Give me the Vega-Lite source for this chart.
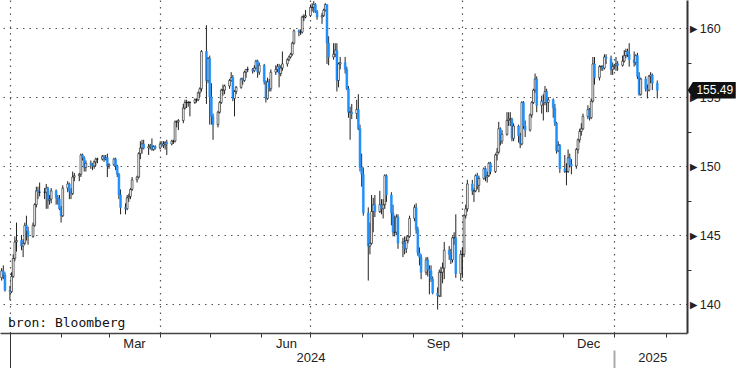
{
  "$schema": "https://vega.github.io/schema/vega-lite/v6.json",
  "width": 687,
  "height": 333,
  "padding": {"left": 0, "top": 0, "right": 49, "bottom": 35},
  "autosize": {"type": "none"},
  "background": "white",
  "config": {"view": {"stroke": null}},
  "data": {"values": [
{"d":"2023-12-27","o":141.9,"h":142.6,"l":141.7,"c":142.4},
{"d":"2023-12-28","o":142.4,"h":142.8,"l":141.8,"c":142.1},
{"d":"2023-12-29","o":142.1,"h":142.3,"l":140.9,"c":141.0},
{"d":"2024-01-01","o":141.0,"h":141.3,"l":140.3,"c":140.9},
{"d":"2024-01-02","o":140.9,"h":142.3,"l":140.8,"c":142.0},
{"d":"2024-01-03","o":142.0,"h":143.6,"l":141.9,"c":143.3},
{"d":"2024-01-04","o":143.3,"h":144.9,"l":143.1,"c":144.5},
{"d":"2024-01-05","o":144.5,"h":145.9,"l":143.8,"c":144.6},
{"d":"2024-01-08","o":144.6,"h":145.0,"l":143.9,"c":144.2},
{"d":"2024-01-09","o":144.2,"h":144.7,"l":143.4,"c":144.4},
{"d":"2024-01-10","o":144.4,"h":145.9,"l":144.3,"c":145.7},
{"d":"2024-01-11","o":145.7,"h":146.4,"l":144.6,"c":145.3},
{"d":"2024-01-12","o":145.3,"h":145.6,"l":144.3,"c":144.9},
{"d":"2024-01-15","o":144.9,"h":145.9,"l":144.8,"c":145.7},
{"d":"2024-01-16","o":145.7,"h":147.3,"l":145.6,"c":147.2},
{"d":"2024-01-17","o":147.2,"h":148.5,"l":147.0,"c":148.2},
{"d":"2024-01-18","o":148.2,"h":148.5,"l":147.6,"c":148.1},
{"d":"2024-01-19","o":148.1,"h":148.8,"l":147.8,"c":148.1},
{"d":"2024-01-22","o":148.1,"h":148.4,"l":147.6,"c":148.1},
{"d":"2024-01-23","o":148.1,"h":148.7,"l":146.9,"c":148.4},
{"d":"2024-01-24","o":148.4,"h":148.5,"l":146.9,"c":147.5},
{"d":"2024-01-25","o":147.5,"h":147.9,"l":147.2,"c":147.6},
{"d":"2024-01-26","o":147.6,"h":148.4,"l":147.3,"c":148.2},
{"d":"2024-01-29","o":148.2,"h":148.3,"l":147.2,"c":147.7},
{"d":"2024-01-30","o":147.7,"h":147.9,"l":147.2,"c":147.6},
{"d":"2024-01-31","o":147.6,"h":147.9,"l":146.8,"c":146.9},
{"d":"2024-02-01","o":146.9,"h":147.1,"l":145.9,"c":146.4},
{"d":"2024-02-02","o":146.4,"h":148.6,"l":146.3,"c":148.4},
{"d":"2024-02-05","o":148.4,"h":148.9,"l":148.1,"c":148.7},
{"d":"2024-02-06","o":148.7,"h":148.8,"l":147.6,"c":148.2},
{"d":"2024-02-07","o":148.2,"h":148.4,"l":147.6,"c":148.0},
{"d":"2024-02-08","o":148.0,"h":149.6,"l":147.9,"c":149.2},
{"d":"2024-02-09","o":149.2,"h":149.5,"l":148.9,"c":149.3},
{"d":"2024-02-12","o":149.3,"h":149.5,"l":148.9,"c":149.4},
{"d":"2024-02-13","o":149.4,"h":150.9,"l":149.2,"c":150.8},
{"d":"2024-02-14","o":150.8,"h":150.9,"l":150.4,"c":150.6},
{"d":"2024-02-15","o":150.6,"h":150.7,"l":149.6,"c":149.9},
{"d":"2024-02-16","o":149.9,"h":150.4,"l":149.6,"c":150.2},
{"d":"2024-02-19","o":150.2,"h":150.4,"l":149.8,"c":150.1},
{"d":"2024-02-20","o":150.1,"h":150.2,"l":149.7,"c":150.0},
{"d":"2024-02-21","o":150.0,"h":150.4,"l":149.8,"c":150.3},
{"d":"2024-02-22","o":150.3,"h":150.6,"l":150.0,"c":150.5},
{"d":"2024-02-23","o":150.5,"h":150.6,"l":150.2,"c":150.5},
{"d":"2024-02-26","o":150.5,"h":150.8,"l":150.4,"c":150.7},
{"d":"2024-02-27","o":150.7,"h":150.8,"l":150.3,"c":150.5},
{"d":"2024-02-28","o":150.5,"h":150.8,"l":150.4,"c":150.6},
{"d":"2024-02-29","o":150.6,"h":150.9,"l":149.2,"c":150.0},
{"d":"2024-03-01","o":150.0,"h":150.2,"l":149.8,"c":150.1},
{"d":"2024-03-04","o":150.1,"h":150.6,"l":150.0,"c":150.5},
{"d":"2024-03-05","o":150.5,"h":150.6,"l":149.7,"c":150.0},
{"d":"2024-03-06","o":150.0,"h":150.1,"l":149.2,"c":149.4},
{"d":"2024-03-07","o":149.4,"h":149.5,"l":147.6,"c":147.9},
{"d":"2024-03-08","o":147.9,"h":148.3,"l":146.5,"c":147.0},
{"d":"2024-03-11","o":147.0,"h":147.3,"l":146.5,"c":146.9},
{"d":"2024-03-12","o":146.9,"h":147.9,"l":146.8,"c":147.7},
{"d":"2024-03-13","o":147.7,"h":148.0,"l":147.4,"c":147.8},
{"d":"2024-03-14","o":147.8,"h":148.4,"l":147.6,"c":148.3},
{"d":"2024-03-15","o":148.3,"h":149.2,"l":148.2,"c":149.0},
{"d":"2024-03-18","o":149.0,"h":149.3,"l":148.8,"c":149.2},
{"d":"2024-03-19","o":149.2,"h":151.0,"l":149.1,"c":150.9},
{"d":"2024-03-20","o":150.9,"h":151.8,"l":150.5,"c":151.3},
{"d":"2024-03-21","o":151.3,"h":151.9,"l":150.9,"c":151.6},
{"d":"2024-03-22","o":151.6,"h":151.9,"l":151.2,"c":151.3},
{"d":"2024-03-25","o":151.3,"h":151.6,"l":150.8,"c":151.4},
{"d":"2024-03-26","o":151.4,"h":151.6,"l":151.2,"c":151.5},
{"d":"2024-03-27","o":151.5,"h":152.0,"l":151.1,"c":151.2},
{"d":"2024-03-28","o":151.2,"h":151.5,"l":151.1,"c":151.4},
{"d":"2024-03-29","o":151.4,"h":151.5,"l":151.2,"c":151.3},
{"d":"2024-04-01","o":151.3,"h":151.8,"l":151.2,"c":151.6},
{"d":"2024-04-02","o":151.6,"h":151.8,"l":151.4,"c":151.5},
{"d":"2024-04-03","o":151.5,"h":151.8,"l":151.3,"c":151.6},
{"d":"2024-04-04","o":151.6,"h":151.8,"l":151.2,"c":151.7},
{"d":"2024-04-05","o":151.7,"h":151.9,"l":150.8,"c":151.6},
{"d":"2024-04-08","o":151.6,"h":151.9,"l":151.5,"c":151.8},
{"d":"2024-04-09","o":151.8,"h":151.9,"l":151.6,"c":151.8},
{"d":"2024-04-10","o":151.8,"h":153.3,"l":151.7,"c":153.2},
{"d":"2024-04-11","o":153.2,"h":153.3,"l":152.8,"c":153.2},
{"d":"2024-04-12","o":153.2,"h":153.4,"l":152.6,"c":153.3},
{"d":"2024-04-15","o":153.3,"h":154.5,"l":153.1,"c":154.2},
{"d":"2024-04-16","o":154.2,"h":154.8,"l":154.1,"c":154.6},
{"d":"2024-04-17","o":154.6,"h":154.8,"l":154.2,"c":154.6},
{"d":"2024-04-18","o":154.6,"h":154.7,"l":154.3,"c":154.6},
{"d":"2024-04-19","o":154.6,"h":154.7,"l":153.6,"c":154.6},
{"d":"2024-04-22","o":154.6,"h":154.9,"l":154.5,"c":154.8},
{"d":"2024-04-23","o":154.8,"h":154.9,"l":154.6,"c":154.8},
{"d":"2024-04-24","o":154.8,"h":155.4,"l":154.7,"c":155.3},
{"d":"2024-04-25","o":155.3,"h":155.7,"l":155.0,"c":155.6},
{"d":"2024-04-26","o":155.6,"h":158.4,"l":155.4,"c":158.3},
{"d":"2024-04-29","o":158.3,"h":160.2,"l":154.5,"c":156.2},
{"d":"2024-04-30","o":156.2,"h":157.9,"l":156.0,"c":157.8},
{"d":"2024-05-01","o":157.8,"h":158.0,"l":153.0,"c":155.0},
{"d":"2024-05-02","o":155.0,"h":156.0,"l":153.0,"c":153.6},
{"d":"2024-05-03","o":153.6,"h":153.8,"l":151.9,"c":153.0},
{"d":"2024-05-06","o":153.0,"h":154.0,"l":152.8,"c":153.9},
{"d":"2024-05-07","o":153.9,"h":154.7,"l":153.8,"c":154.6},
{"d":"2024-05-08","o":154.6,"h":155.6,"l":154.5,"c":155.5},
{"d":"2024-05-09","o":155.5,"h":155.9,"l":155.1,"c":155.5},
{"d":"2024-05-10","o":155.5,"h":155.9,"l":155.2,"c":155.8},
{"d":"2024-05-13","o":155.8,"h":156.3,"l":155.6,"c":156.2},
{"d":"2024-05-14","o":156.2,"h":156.8,"l":156.1,"c":156.4},
{"d":"2024-05-15","o":156.4,"h":156.6,"l":154.7,"c":154.9},
{"d":"2024-05-16","o":154.9,"h":155.5,"l":153.6,"c":155.4},
{"d":"2024-05-17","o":155.4,"h":155.8,"l":155.2,"c":155.7},
{"d":"2024-05-20","o":155.7,"h":156.4,"l":155.6,"c":156.3},
{"d":"2024-05-21","o":156.3,"h":156.4,"l":155.9,"c":156.2},
{"d":"2024-05-22","o":156.2,"h":156.9,"l":156.1,"c":156.8},
{"d":"2024-05-23","o":156.8,"h":157.0,"l":156.4,"c":157.0},
{"d":"2024-05-24","o":157.0,"h":157.2,"l":156.8,"c":157.0},
{"d":"2024-05-27","o":157.0,"h":157.1,"l":156.7,"c":156.9},
{"d":"2024-05-28","o":156.9,"h":157.3,"l":156.8,"c":157.1},
{"d":"2024-05-29","o":157.1,"h":157.7,"l":157.0,"c":157.6},
{"d":"2024-05-30","o":157.6,"h":157.7,"l":156.4,"c":156.8},
{"d":"2024-05-31","o":156.8,"h":157.5,"l":156.6,"c":157.3},
{"d":"2024-06-03","o":157.3,"h":157.4,"l":155.9,"c":156.1},
{"d":"2024-06-04","o":156.1,"h":156.2,"l":154.6,"c":154.9},
{"d":"2024-06-05","o":154.9,"h":156.4,"l":154.8,"c":156.1},
{"d":"2024-06-06","o":156.1,"h":156.3,"l":155.4,"c":155.6},
{"d":"2024-06-07","o":155.6,"h":157.0,"l":155.4,"c":156.8},
{"d":"2024-06-10","o":156.8,"h":157.3,"l":156.6,"c":157.0},
{"d":"2024-06-11","o":157.0,"h":157.4,"l":156.8,"c":157.2},
{"d":"2024-06-12","o":157.2,"h":157.4,"l":155.7,"c":156.7},
{"d":"2024-06-13","o":156.7,"h":157.3,"l":156.5,"c":157.1},
{"d":"2024-06-14","o":157.1,"h":158.3,"l":156.9,"c":157.4},
{"d":"2024-06-17","o":157.4,"h":157.8,"l":157.2,"c":157.7},
{"d":"2024-06-18","o":157.7,"h":158.0,"l":157.6,"c":157.9},
{"d":"2024-06-19","o":157.9,"h":158.2,"l":157.8,"c":158.1},
{"d":"2024-06-20","o":158.1,"h":159.0,"l":158.0,"c":158.9},
{"d":"2024-06-21","o":158.9,"h":159.9,"l":158.8,"c":159.8},
{"d":"2024-06-24","o":159.8,"h":159.9,"l":159.4,"c":159.7},
{"d":"2024-06-25","o":159.7,"h":159.9,"l":159.5,"c":159.7},
{"d":"2024-06-26","o":159.7,"h":160.9,"l":159.6,"c":160.8},
{"d":"2024-06-27","o":160.8,"h":161.0,"l":160.5,"c":160.8},
{"d":"2024-06-28","o":160.8,"h":161.3,"l":160.7,"c":160.9},
{"d":"2024-07-01","o":160.9,"h":161.7,"l":160.8,"c":161.5},
{"d":"2024-07-02","o":161.5,"h":161.8,"l":161.2,"c":161.5},
{"d":"2024-07-03","o":161.5,"h":161.95,"l":161.1,"c":161.7},
{"d":"2024-07-04","o":161.7,"h":161.8,"l":161.1,"c":161.2},
{"d":"2024-07-05","o":161.2,"h":161.3,"l":160.6,"c":160.8},
{"d":"2024-07-08","o":160.8,"h":161.1,"l":160.3,"c":160.9},
{"d":"2024-07-09","o":160.9,"h":161.4,"l":160.8,"c":161.3},
{"d":"2024-07-10","o":161.3,"h":161.8,"l":161.2,"c":161.7},
{"d":"2024-07-11","o":161.7,"h":161.7,"l":157.4,"c":158.9},
{"d":"2024-07-12","o":158.9,"h":159.4,"l":157.3,"c":157.9},
{"d":"2024-07-15","o":157.9,"h":158.9,"l":157.7,"c":158.1},
{"d":"2024-07-16","o":158.1,"h":158.9,"l":157.9,"c":158.4},
{"d":"2024-07-17","o":158.4,"h":158.9,"l":155.4,"c":156.2},
{"d":"2024-07-18","o":156.2,"h":157.5,"l":155.7,"c":157.4},
{"d":"2024-07-19","o":157.4,"h":157.9,"l":157.0,"c":157.5},
{"d":"2024-07-22","o":157.5,"h":157.9,"l":156.7,"c":157.0},
{"d":"2024-07-23","o":157.0,"h":157.2,"l":155.5,"c":155.6},
{"d":"2024-07-24","o":155.6,"h":155.8,"l":153.5,"c":153.9},
{"d":"2024-07-25","o":153.9,"h":154.3,"l":151.9,"c":153.9},
{"d":"2024-07-26","o":153.9,"h":154.5,"l":153.4,"c":153.8},
{"d":"2024-07-29","o":153.8,"h":154.8,"l":153.4,"c":154.1},
{"d":"2024-07-30","o":154.1,"h":155.2,"l":152.6,"c":152.7},
{"d":"2024-07-31","o":152.7,"h":153.0,"l":149.6,"c":149.9},
{"d":"2024-08-01","o":149.9,"h":150.9,"l":148.5,"c":149.4},
{"d":"2024-08-02","o":149.4,"h":149.9,"l":146.4,"c":146.6},
{"d":"2024-08-05","o":146.6,"h":147.0,"l":141.7,"c":144.2},
{"d":"2024-08-06","o":144.2,"h":145.9,"l":143.6,"c":144.4},
{"d":"2024-08-07","o":144.4,"h":147.9,"l":144.3,"c":146.7},
{"d":"2024-08-08","o":146.7,"h":147.7,"l":145.2,"c":147.2},
{"d":"2024-08-09","o":147.2,"h":147.9,"l":146.3,"c":146.7},
{"d":"2024-08-12","o":146.7,"h":148.2,"l":146.6,"c":147.2},
{"d":"2024-08-13","o":147.2,"h":147.6,"l":146.5,"c":146.9},
{"d":"2024-08-14","o":146.9,"h":147.6,"l":146.2,"c":147.2},
{"d":"2024-08-15","o":147.2,"h":149.4,"l":146.9,"c":149.3},
{"d":"2024-08-16","o":149.3,"h":149.4,"l":147.4,"c":147.9},
{"d":"2024-08-19","o":147.9,"h":148.1,"l":145.7,"c":146.6},
{"d":"2024-08-20","o":146.6,"h":147.2,"l":144.9,"c":145.2},
{"d":"2024-08-21","o":145.2,"h":146.4,"l":144.9,"c":145.2},
{"d":"2024-08-22","o":145.2,"h":146.5,"l":145.0,"c":146.3},
{"d":"2024-08-23","o":146.3,"h":146.5,"l":144.0,"c":144.4},
{"d":"2024-08-26","o":144.4,"h":144.8,"l":143.4,"c":144.5},
{"d":"2024-08-27","o":144.5,"h":144.9,"l":143.6,"c":144.0},
{"d":"2024-08-28","o":144.0,"h":144.9,"l":143.7,"c":144.6},
{"d":"2024-08-29","o":144.6,"h":145.0,"l":144.4,"c":144.9},
{"d":"2024-08-30","o":144.9,"h":146.4,"l":144.8,"c":146.2},
{"d":"2024-09-02","o":146.2,"h":147.2,"l":146.0,"c":147.0},
{"d":"2024-09-03","o":147.0,"h":147.3,"l":145.1,"c":145.4},
{"d":"2024-09-04","o":145.4,"h":145.6,"l":143.5,"c":143.7},
{"d":"2024-09-05","o":143.7,"h":144.1,"l":142.8,"c":143.4},
{"d":"2024-09-06","o":143.4,"h":143.6,"l":141.8,"c":142.3},
{"d":"2024-09-09","o":142.3,"h":143.4,"l":142.1,"c":143.2},
{"d":"2024-09-10","o":143.2,"h":143.4,"l":142.0,"c":142.5},
{"d":"2024-09-11","o":142.5,"h":142.8,"l":140.7,"c":142.4},
{"d":"2024-09-12","o":142.4,"h":142.8,"l":141.6,"c":141.8},
{"d":"2024-09-13","o":141.8,"h":142.0,"l":140.7,"c":140.8},
{"d":"2024-09-16","o":140.8,"h":141.2,"l":139.6,"c":140.6},
{"d":"2024-09-17","o":140.6,"h":142.5,"l":140.5,"c":142.3},
{"d":"2024-09-18","o":142.3,"h":142.7,"l":140.5,"c":142.3},
{"d":"2024-09-19","o":142.3,"h":143.0,"l":141.5,"c":142.6},
{"d":"2024-09-20","o":142.6,"h":144.5,"l":141.8,"c":143.9},
{"d":"2024-09-23","o":143.9,"h":144.2,"l":143.2,"c":143.6},
{"d":"2024-09-24","o":143.6,"h":144.0,"l":142.9,"c":143.2},
{"d":"2024-09-25","o":143.2,"h":144.9,"l":143.0,"c":144.8},
{"d":"2024-09-26","o":144.8,"h":145.2,"l":144.3,"c":144.8},
{"d":"2024-09-27","o":144.8,"h":146.5,"l":141.9,"c":142.2},
{"d":"2024-09-30","o":142.2,"h":143.9,"l":141.7,"c":143.6},
{"d":"2024-10-01","o":143.6,"h":144.1,"l":141.9,"c":143.6},
{"d":"2024-10-02","o":143.6,"h":146.5,"l":143.4,"c":146.4},
{"d":"2024-10-03","o":146.4,"h":147.2,"l":146.2,"c":146.9},
{"d":"2024-10-04","o":146.9,"h":149.0,"l":146.7,"c":148.7},
{"d":"2024-10-07","o":148.7,"h":149.0,"l":147.9,"c":148.2},
{"d":"2024-10-08","o":148.2,"h":148.4,"l":147.4,"c":148.2},
{"d":"2024-10-09","o":148.2,"h":149.4,"l":148.1,"c":149.3},
{"d":"2024-10-10","o":149.3,"h":149.5,"l":148.3,"c":148.6},
{"d":"2024-10-11","o":148.6,"h":149.3,"l":148.1,"c":149.1},
{"d":"2024-10-14","o":149.1,"h":149.9,"l":149.0,"c":149.8},
{"d":"2024-10-15","o":149.8,"h":149.9,"l":148.9,"c":149.2},
{"d":"2024-10-16","o":149.2,"h":149.6,"l":148.8,"c":149.3},
{"d":"2024-10-17","o":149.3,"h":150.3,"l":149.2,"c":150.2},
{"d":"2024-10-18","o":150.2,"h":150.3,"l":149.4,"c":149.6},
{"d":"2024-10-21","o":149.6,"h":150.9,"l":149.5,"c":150.8},
{"d":"2024-10-22","o":150.8,"h":151.3,"l":150.4,"c":151.0},
{"d":"2024-10-23","o":151.0,"h":153.2,"l":150.9,"c":152.7},
{"d":"2024-10-24","o":152.7,"h":152.8,"l":151.5,"c":151.8},
{"d":"2024-10-25","o":151.8,"h":152.6,"l":151.6,"c":152.3},
{"d":"2024-10-28","o":152.3,"h":153.9,"l":152.2,"c":153.3},
{"d":"2024-10-29","o":153.3,"h":153.9,"l":152.9,"c":153.4},
{"d":"2024-10-30","o":153.4,"h":153.9,"l":152.9,"c":153.4},
{"d":"2024-10-31","o":153.4,"h":153.5,"l":151.8,"c":152.0},
{"d":"2024-11-01","o":152.0,"h":153.1,"l":151.8,"c":152.9},
{"d":"2024-11-04","o":152.9,"h":153.0,"l":151.7,"c":152.2},
{"d":"2024-11-05","o":152.2,"h":152.4,"l":151.3,"c":151.6},
{"d":"2024-11-06","o":151.6,"h":154.7,"l":151.5,"c":154.6},
{"d":"2024-11-07","o":154.6,"h":154.7,"l":152.7,"c":152.9},
{"d":"2024-11-08","o":152.9,"h":153.3,"l":152.1,"c":152.6},
{"d":"2024-11-11","o":152.6,"h":153.8,"l":152.5,"c":153.7},
{"d":"2024-11-12","o":153.7,"h":154.7,"l":153.5,"c":154.6},
{"d":"2024-11-13","o":154.6,"h":155.6,"l":154.5,"c":155.5},
{"d":"2024-11-14","o":155.5,"h":156.7,"l":155.3,"c":156.3},
{"d":"2024-11-15","o":156.3,"h":156.5,"l":153.9,"c":154.4},
{"d":"2024-11-18","o":154.4,"h":155.1,"l":153.8,"c":154.7},
{"d":"2024-11-19","o":154.7,"h":155.2,"l":153.3,"c":154.6},
{"d":"2024-11-20","o":154.6,"h":155.8,"l":154.4,"c":155.4},
{"d":"2024-11-21","o":155.4,"h":155.6,"l":153.9,"c":154.6},
{"d":"2024-11-22","o":154.6,"h":155.0,"l":153.9,"c":154.8},
{"d":"2024-11-25","o":154.8,"h":154.9,"l":153.5,"c":154.2},
{"d":"2024-11-26","o":154.2,"h":154.5,"l":152.9,"c":153.1},
{"d":"2024-11-27","o":153.1,"h":153.2,"l":150.9,"c":151.1},
{"d":"2024-11-28","o":151.1,"h":151.8,"l":151.0,"c":151.5},
{"d":"2024-11-29","o":151.5,"h":151.6,"l":149.5,"c":149.8},
{"d":"2024-12-02","o":149.8,"h":150.8,"l":149.5,"c":149.6},
{"d":"2024-12-03","o":149.6,"h":150.2,"l":148.6,"c":149.6},
{"d":"2024-12-04","o":149.6,"h":151.2,"l":149.5,"c":150.6},
{"d":"2024-12-05","o":150.6,"h":150.9,"l":149.9,"c":150.1},
{"d":"2024-12-06","o":150.1,"h":150.5,"l":149.4,"c":150.0},
{"d":"2024-12-09","o":150.0,"h":151.3,"l":149.8,"c":151.2},
{"d":"2024-12-10","o":151.2,"h":152.0,"l":150.9,"c":151.9},
{"d":"2024-12-11","o":151.9,"h":152.7,"l":151.7,"c":152.5},
{"d":"2024-12-12","o":152.5,"h":153.1,"l":152.2,"c":152.7},
{"d":"2024-12-13","o":152.7,"h":153.8,"l":152.6,"c":153.6},
{"d":"2024-12-16","o":153.6,"h":154.4,"l":153.4,"c":154.1},
{"d":"2024-12-17","o":154.1,"h":154.2,"l":153.3,"c":153.5},
{"d":"2024-12-18","o":153.5,"h":154.9,"l":153.4,"c":154.7},
{"d":"2024-12-19","o":154.7,"h":157.9,"l":154.6,"c":157.4},
{"d":"2024-12-20","o":157.4,"h":157.9,"l":155.9,"c":156.4},
{"d":"2024-12-23","o":156.4,"h":157.3,"l":156.2,"c":157.2},
{"d":"2024-12-24","o":157.2,"h":157.3,"l":156.9,"c":157.2},
{"d":"2024-12-25","o":157.2,"h":157.3,"l":156.9,"c":157.1},
{"d":"2024-12-26","o":157.1,"h":158.1,"l":157.0,"c":157.9},
{"d":"2024-12-27","o":157.9,"h":158.1,"l":157.4,"c":157.8},
{"d":"2024-12-30","o":157.8,"h":158.0,"l":156.6,"c":157.0},
{"d":"2024-12-31","o":157.0,"h":157.5,"l":156.6,"c":157.2},
{"d":"2025-01-01","o":157.2,"h":157.4,"l":157.0,"c":157.3},
{"d":"2025-01-02","o":157.3,"h":157.9,"l":156.9,"c":157.4},
{"d":"2025-01-03","o":157.4,"h":157.6,"l":156.9,"c":157.3},
{"d":"2025-01-06","o":157.3,"h":158.0,"l":157.2,"c":157.6},
{"d":"2025-01-07","o":157.6,"h":158.4,"l":157.5,"c":158.0},
{"d":"2025-01-08","o":158.0,"h":158.5,"l":157.8,"c":158.3},
{"d":"2025-01-09","o":158.3,"h":158.5,"l":157.9,"c":158.1},
{"d":"2025-01-10","o":158.1,"h":158.9,"l":157.2,"c":157.7},
{"d":"2025-01-13","o":157.7,"h":158.3,"l":157.2,"c":157.5},
{"d":"2025-01-14","o":157.5,"h":158.1,"l":157.3,"c":158.0},
{"d":"2025-01-15","o":158.0,"h":158.2,"l":156.3,"c":156.5},
{"d":"2025-01-16","o":156.5,"h":156.8,"l":155.1,"c":155.2},
{"d":"2025-01-17","o":155.2,"h":156.4,"l":155.1,"c":156.3},
{"d":"2025-01-20","o":156.3,"h":156.5,"l":155.4,"c":155.6},
{"d":"2025-01-21","o":155.6,"h":155.9,"l":154.9,"c":155.5},
{"d":"2025-01-22","o":155.5,"h":156.6,"l":155.4,"c":156.5},
{"d":"2025-01-23","o":156.5,"h":156.8,"l":156.0,"c":156.6},
{"d":"2025-01-24","o":156.6,"h":156.7,"l":155.5,"c":156.0},
{"d":"2025-01-27","o":156.0,"h":156.2,"l":154.9,"c":155.49}
  ]},
  "resolve": {"axis": {"x": "independent", "y": "independent"}},
  "layer": [
    {
      "mark": {"type": "rule", "color": "#222", "strokeWidth": 1},
      "encoding": {
        "x": {
          "field": "d", "type": "temporal",
          "scale": {"type": "utc", "padding": 0, "domain": [{"year": 2023, "month": 12, "date": 26, "utc": true}, {"year": 2025, "month": 2, "date": 14, "utc": true}]},
          "axis": {
            "title": null, "orient": "bottom",
            "values": [
              {"year": 2024, "month": 1, "date": 1, "utc": true},
              {"year": 2024, "month": 2, "date": 1, "utc": true},
              {"year": 2024, "month": 3, "date": 1, "utc": true},
              {"year": 2024, "month": 4, "date": 1, "utc": true},
              {"year": 2024, "month": 5, "date": 1, "utc": true},
              {"year": 2024, "month": 6, "date": 1, "utc": true},
              {"year": 2024, "month": 7, "date": 1, "utc": true},
              {"year": 2024, "month": 8, "date": 1, "utc": true},
              {"year": 2024, "month": 9, "date": 1, "utc": true},
              {"year": 2024, "month": 10, "date": 1, "utc": true},
              {"year": 2024, "month": 11, "date": 1, "utc": true},
              {"year": 2024, "month": 12, "date": 1, "utc": true},
              {"year": 2025, "month": 1, "date": 1, "utc": true},
              {"year": 2025, "month": 2, "date": 1, "utc": true}
            ],
            "labelExpr": "indexof([2,5,8,11], utcmonth(datum.value)) >= 0 ? utcFormat(datum.value, '%b') : ''",
            "labelOffset": 25, "labelPadding": 0, "labelOverlap": false, "labelFlush": false, "labelBound": false,
            "labelFont": "Liberation Sans", "labelFontSize": 13, "labelColor": "#222",
            "ticks": true, "tickSize": 4, "tickColor": "#333", "tickWidth": 1,
            "domain": true, "domainColor": "#444", "domainWidth": 1.5,
            "grid": false
          }
        },
        "y": {
          "field": "l", "type": "quantitative",
          "scale": {"domain": [137.9, 162.03], "zero": false, "nice": false},
          "axis": {
            "title": null, "orient": "right",
            "values": [140, 145, 150, 155, 160],
            "labelExpr": "'►' + datum.label",
            "labelPadding": 0, "labelFont": "Liberation Sans", "labelFontSize": 12.5, "labelColor": "#222",
            "ticks": false, "domain": false,
            "grid": true, "gridDash": [1.5, 5], "gridColor": "#555", "gridWidth": 1.2
          }
        },
        "y2": {"field": "h"}
      }
    },
    {
      "mark": {"type": "bar", "size": 1.8, "strokeWidth": 0.6},
      "encoding": {
        "x": {
          "field": "d", "type": "temporal",
          "axis": {
            "title": null, "orient": "bottom",
            "values": [
              {"year": 2024, "month": 1, "date": 1, "utc": true},
              {"year": 2024, "month": 4, "date": 1, "utc": true},
              {"year": 2024, "month": 7, "date": 1, "utc": true},
              {"year": 2024, "month": 10, "date": 1, "utc": true},
              {"year": 2025, "month": 1, "date": 1, "utc": true}
            ],
            "labels": false, "ticks": false, "domain": false,
            "grid": true, "gridDash": [1.5, 5], "gridColor": "#555", "gridWidth": 1.2
          }
        },
        "y": {
          "field": "o", "type": "quantitative",
          "axis": {
            "title": null, "orient": "right",
            "values": [142.5, 147.5, 152.5, 157.5],
            "labels": false, "ticks": true, "tickSize": 4, "tickColor": "#333",
            "domain": true, "domainColor": "#333", "domainWidth": 2, "grid": false
          }
        },
        "y2": {"field": "c"},
        "fill": {"condition": {"test": "datum.c >= datum.o", "value": "#ffffff"}, "value": "#1e90ff"},
        "stroke": {"condition": {"test": "datum.c >= datum.o", "value": "#111111"}, "value": "#1e90ff"}
      }
    },
    {
      "data": {"values": [{"v": 155.49}]},
      "mark": {"type": "point", "shape": "M-1,0L-0.79,-0.34L1,-0.34L1,0.34L-0.79,0.34Z", "size": 2304, "filled": true, "color": "#111", "opacity": 1},
      "encoding": {
        "x": {
          "datum": {"year": 2025, "month": 3, "date": 1, "utc": true}, "type": "temporal",
          "axis": {
            "title": null, "orient": "bottom",
            "values": [
              {"year": 2024, "month": 7, "date": 1, "utc": true},
              {"year": 2025, "month": 1, "date": 24, "utc": true}
            ],
            "labelExpr": "utcFormat(datum.value, '%Y')",
            "labelPadding": 18, "labelOverlap": false, "labelFlush": false, "labelBound": false,
            "labelFont": "Liberation Sans", "labelFontSize": 13, "labelColor": "#222",
            "ticks": false, "domain": false, "grid": false
          }
        },
        "y": {"field": "v", "type": "quantitative", "axis": null}
      }
    },
    {
      "data": {"values": [{"v": 155.49, "t": "155.49"}]},
      "mark": {"type": "text", "font": "Liberation Sans", "fontSize": 12, "color": "#ffffff", "align": "center", "baseline": "middle", "dx": 3},
      "encoding": {
        "x": {
          "datum": {"year": 2025, "month": 3, "date": 1, "utc": true}, "type": "temporal",
          "axis": {
            "title": null, "orient": "bottom",
            "values": [{"year": 2024, "month": 1, "date": 1, "utc": true}],
            "labels": false, "ticks": true, "tickSize": 35, "tickColor": "#333", "tickWidth": 1,
            "domain": false, "grid": false
          }
        },
        "y": {"field": "v", "type": "quantitative", "axis": null},
        "text": {"field": "t"}
      }
    },
    {
      "data": {"values": [{"v": 138.62, "t": "bron: Bloomberg"}]},
      "mark": {"type": "text", "font": "DejaVu Sans Mono", "fontSize": 13, "color": "#111", "align": "left", "baseline": "middle"},
      "encoding": {
        "x": {
          "datum": {"year": 2023, "month": 12, "date": 30, "hours": 20, "utc": true}, "type": "temporal",
          "axis": {
            "title": null, "orient": "bottom", "offset": 17,
            "values": [{"year": 2025, "month": 1, "date": 1, "utc": true}],
            "labels": false, "ticks": true, "tickSize": 18, "tickColor": "#aaaaaa", "tickWidth": 2,
            "domain": false, "grid": false
          }
        },
        "y": {"field": "v", "type": "quantitative", "axis": null},
        "text": {"field": "t"}
      }
    }
  ]
}
